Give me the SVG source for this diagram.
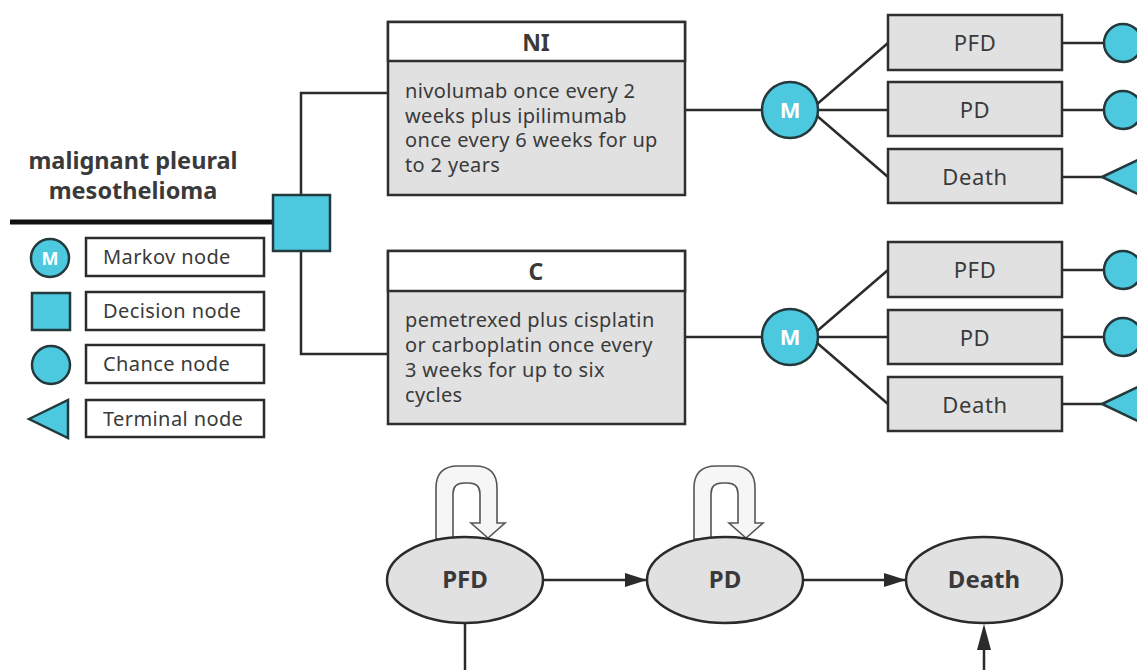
<svg xmlns="http://www.w3.org/2000/svg" width="1137" height="670" viewBox="0 0 1137 670">
<defs>
<style>
.ln{stroke:#2b2b2b;stroke-width:2.5;fill:none}
.box{fill:#e1e1e1;stroke:#2f2f2f;stroke-width:2.5}
.hdr{fill:#ffffff;stroke:#2f2f2f;stroke-width:2.5}
.teal{fill:#4cc9de;stroke:#24393d;stroke-width:2.5}
.lg{fill:#ffffff;stroke:#2b2b2b;stroke-width:2.5}
.t{font-family:"Noto Sans","Open Sans",sans-serif;fill:#3a3a3a}
.b{font-weight:bold}
.body{font-size:20px;letter-spacing:0.35px}
.st{font-size:22px;letter-spacing:0.6px}
.lgt{font-size:20px;letter-spacing:0.4px}
.loop{fill:#f6f6f6;stroke:#555;stroke-width:1.6}
.ell{fill:#e1e1e1;stroke:#2b2b2b;stroke-width:2.5}
.ml{font-family:"Noto Sans",sans-serif;font-weight:bold;fill:#ffffff}
</style>
<marker id="ah2" markerWidth="22" markerHeight="14" refX="21" refY="7" orient="auto" markerUnits="userSpaceOnUse" viewBox="0 0 22 14">
<path d="M0,0 L22,7 L0,14 Z" fill="#2b2b2b"/>
</marker>
</defs>
<rect width="1137" height="670" fill="#ffffff"/>

<g id="connectors">
<line x1="10" y1="222" x2="274" y2="222" stroke="#111" stroke-width="5"/>
<polyline class="ln" points="301,195 301,93 388,93"/>
<polyline class="ln" points="301,251 301,354 388,354"/>
<line class="ln" x1="685" y1="110" x2="762" y2="110"/>
<line class="ln" x1="685" y1="337" x2="762" y2="337"/>
<line class="ln" x1="816" y1="105" x2="888" y2="43"/>
<line class="ln" x1="818" y1="110" x2="888" y2="110"/>
<line class="ln" x1="816" y1="115" x2="888" y2="177"/>
<line class="ln" x1="816" y1="332" x2="888" y2="270"/>
<line class="ln" x1="818" y1="337" x2="888" y2="337"/>
<line class="ln" x1="816" y1="342" x2="888" y2="404"/>
<line class="ln" x1="1062" y1="43" x2="1104" y2="43"/>
<line class="ln" x1="1062" y1="110" x2="1104" y2="110"/>
<line class="ln" x1="1062" y1="177" x2="1102" y2="177"/>
<line class="ln" x1="1062" y1="270" x2="1104" y2="270"/>
<line class="ln" x1="1062" y1="337" x2="1104" y2="337"/>
<line class="ln" x1="1062" y1="404" x2="1102" y2="404"/>
<line class="ln" x1="544" y1="580" x2="646" y2="580" marker-end="url(#ah2)"/>
<line class="ln" x1="803" y1="580" x2="905" y2="580" marker-end="url(#ah2)"/>
<line class="ln" x1="465" y1="623" x2="465" y2="672"/>
<line class="ln" x1="984" y1="672" x2="984" y2="640"/>
<path d="M977,650 L984,624 L991,650 Z" fill="#2b2b2b"/>
</g>

<g id="title">
<text class="t b" x="133" y="169" font-size="23.5" text-anchor="middle" fill="#333">malignant pleural</text>
<text class="t b" x="133" y="199" font-size="23.5" text-anchor="middle" fill="#333">mesothelioma</text>
</g>

<g id="decision">
<rect class="teal" x="273" y="195" width="57" height="56"/>
</g>

<g id="legend">
<circle class="teal" cx="50" cy="258" r="19"/>
<text class="ml" x="50" y="265" font-size="18" text-anchor="middle">M</text>
<rect class="lg" x="86" y="238" width="178" height="38"/>
<text class="t lgt" x="103" y="264">Markov node</text>
<rect class="teal" x="32" y="293" width="38" height="37"/>
<rect class="lg" x="86" y="292" width="178" height="38"/>
<text class="t lgt" x="103" y="318">Decision node</text>
<circle class="teal" cx="51" cy="365" r="19"/>
<rect class="lg" x="86" y="345" width="178" height="38"/>
<text class="t lgt" x="103" y="371">Chance node</text>
<polygon class="teal" points="29,419 68,400 68,438"/>
<rect class="lg" x="86" y="400" width="178" height="37"/>
<text class="t lgt" x="103" y="426">Terminal node</text>
</g>

<g id="NI">
<rect class="box" x="388" y="22" width="297" height="173"/>
<rect class="hdr" x="388" y="22" width="297" height="39"/>
<text class="t b" x="536" y="51" font-size="23" text-anchor="middle" fill="#222">NI</text>
<text class="t body" x="405" y="98">nivolumab once every 2</text>
<text class="t body" x="405" y="123">weeks plus ipilimumab</text>
<text class="t body" x="405" y="147">once every 6 weeks for up</text>
<text class="t body" x="405" y="172">to 2 years</text>
</g>

<g id="C">
<rect class="box" x="388" y="251" width="297" height="173"/>
<rect class="hdr" x="388" y="251" width="297" height="40"/>
<text class="t b" x="536" y="280" font-size="23" text-anchor="middle" fill="#222">C</text>
<text class="t body" x="405" y="327">pemetrexed plus cisplatin</text>
<text class="t body" x="405" y="352">or carboplatin once every</text>
<text class="t body" x="405" y="377">3 weeks for up to six</text>
<text class="t body" x="405" y="402">cycles</text>
</g>

<g id="markov1">
<circle class="teal" cx="790" cy="110" r="28"/>
<text class="ml" x="790" y="118" font-size="22" text-anchor="middle">M</text>
</g>
<g id="markov2">
<circle class="teal" cx="790" cy="337" r="28"/>
<text class="ml" x="790" y="345" font-size="22" text-anchor="middle">M</text>
</g>

<g id="states1">
<rect class="box" x="888" y="15" width="174" height="55"/>
<text class="t st" x="975" y="51" text-anchor="middle">PFD</text>
<rect class="box" x="888" y="82" width="174" height="54"/>
<text class="t st" x="975" y="118" text-anchor="middle">PD</text>
<rect class="box" x="888" y="149" width="174" height="54"/>
<text class="t st" x="975" y="185" text-anchor="middle">Death</text>
</g>
<g id="states2">
<rect class="box" x="888" y="242" width="174" height="55"/>
<text class="t st" x="975" y="278" text-anchor="middle">PFD</text>
<rect class="box" x="888" y="310" width="174" height="54"/>
<text class="t st" x="975" y="346" text-anchor="middle">PD</text>
<rect class="box" x="888" y="377" width="174" height="54"/>
<text class="t st" x="975" y="413" text-anchor="middle">Death</text>
</g>

<g id="outcomes">
<circle class="teal" cx="1123" cy="43" r="19"/>
<circle class="teal" cx="1123" cy="110" r="19"/>
<polygon class="teal" points="1102,177 1142,158 1142,196"/>
<circle class="teal" cx="1123" cy="270" r="19"/>
<circle class="teal" cx="1123" cy="337" r="19"/>
<polygon class="teal" points="1102,404 1142,385 1142,423"/>
</g>

<g id="loopPFD">
<path class="loop" d="M436,539 L436,488 Q436,466 458,466 L475,466 Q497,466 497,488 L497,523 L505,523 L488,538 L471,523 L480,523 L480,494 Q480,483 469,483 L464,483 Q453,483 453,494 L453,539 Z"/>
</g>
<g id="loopPD">
<path class="loop" d="M694,539 L694,488 Q694,466 716,466 L733,466 Q755,466 755,488 L755,523 L763,523 L746,538 L729,523 L738,523 L738,494 Q738,483 727,483 L722,483 Q711,483 711,494 L711,539 Z"/>
</g>

<g id="ePFD">
<ellipse class="ell" cx="465" cy="580" rx="78" ry="43"/>
<text class="t b" x="465" y="588" font-size="24" text-anchor="middle" fill="#333">PFD</text>
</g>
<g id="ePD">
<ellipse class="ell" cx="725" cy="580" rx="78" ry="43"/>
<text class="t b" x="725" y="588" font-size="24" text-anchor="middle" fill="#333">PD</text>
</g>
<g id="eDeath">
<ellipse class="ell" cx="984" cy="580" rx="78" ry="43"/>
<text class="t b" x="984" y="588" font-size="24" text-anchor="middle" fill="#333">Death</text>
</g>
</svg>
